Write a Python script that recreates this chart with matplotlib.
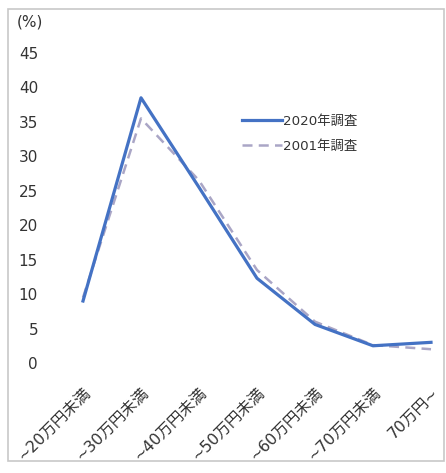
import matplotlib
matplotlib.use("Agg")
import matplotlib.pyplot as plt
from matplotlib.patches import Rectangle

plt.rcParams['font.family'] = ['DejaVu Sans', 'Noto Sans CJK JP']

categories = ["~20万円未満", "~30万円未満", "~40万円未満", "~50万円未満",
              "~60万円未満", "~70万円未満", "70万円~"]
survey_2020 = [9.0, 38.5, 25.5, 12.3, 5.6, 2.5, 3.0]
survey_2001 = [9.5, 35.5, 26.5, 13.5, 6.0, 2.6, 2.0]
yticks = [0, 5, 10, 15, 20, 25, 30, 35, 40, 45]

W, H = 446, 473
fig = plt.figure(figsize=(W / 100, H / 100), dpi=100)
fig.patch.set_facecolor("white")

# frame around the chart area
fig.add_artist(Rectangle((8 / W, 1 - 461 / H), 436 / W, 452 / H,
                         transform=fig.transFigure, fill=False,
                         edgecolor="#c8c8c8", linewidth=1.2))

# axes placed in pixel terms: value 0 at y=363, 45 at y=53
left_px, right_px = 45, 440
ax = fig.add_axes([left_px / W, 1 - 363 / H, (right_px - left_px) / W, (363 - 53) / H])
x = list(range(len(categories)))
ax.plot(x, survey_2001, color="#aaa6c6", linewidth=1.8, linestyle=(0, (4, 2.5)),
        label="2001年調査", zorder=2)
ax.plot(x, survey_2020, color="#4472c4", linewidth=2.3, label="2020年調査", zorder=3)

ax.set_xlim(-(83 - left_px) / 58, 6 + (right_px - 431) / 58)
ax.set_ylim(0, 45)
ax.set_yticks(yticks)
ax.set_yticklabels([str(v) for v in yticks], fontsize=11, color="#333333")
ax.set_xticks(x)
ax.set_xticklabels(categories, rotation=45, ha="right", rotation_mode="anchor",
                   fontsize=11.3, color="#333333")
ax.tick_params(axis="y", length=0, pad=5)
ax.tick_params(axis="x", length=0, pad=16)
for s in ax.spines.values():
    s.set_visible(False)
ax.patch.set_alpha(0)

fig.text(17 / W, 1 - 22 / H, "(%)", fontsize=11, color="#333333",
         ha="left", va="center")

handles, labels = ax.get_legend_handles_labels()
ax.legend(handles[::-1], labels[::-1], loc="upper left",
          bbox_to_anchor=((230 - left_px) / (right_px - left_px), (363 - 103) / 310),
          frameon=False, handlelength=3.0, handletextpad=0.1,
          labelspacing=0.9, labelcolor="#333333",
          prop={'family': ['DejaVu Sans', 'Noto Sans CJK JP'], 'size': 9.6})

fig.savefig("out.png", dpi=100)
